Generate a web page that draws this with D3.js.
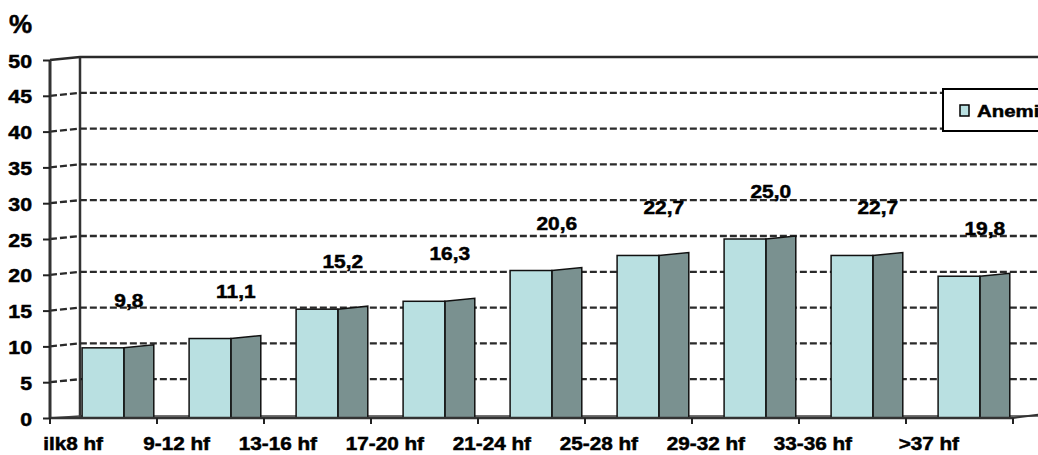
<!DOCTYPE html>
<html>
<head>
<meta charset="utf-8">
<script src="https://cdn.jsdelivr.net/npm/d3@7"></script>
<style>
  html, body { margin: 0; padding: 0; background: #fff; overflow: hidden; }
  svg { display: block; }
  text { font-family: "Liberation Sans", Arial, sans-serif; font-weight: bold; fill: #000; stroke: #000; stroke-width: 0.5px; }
</style>
</head>
<body>
<svg id="chart" width="1038" height="455"></svg>
<script>
// Gestation week groups and anemia prevalence (%)
const categories = ["ilk8 hf", "9-12 hf", "13-16 hf", "17-20 hf", "21-24 hf", "25-28 hf", "29-32 hf", "33-36 hf", ">37 hf"];
const values = [9.8, 11.1, 15.2, 16.3, 20.6, 22.7, 25.0, 22.7, 19.8];
const valueLabels = ["9,8", "11,1", "15,2", "16,3", "20,6", "22,7", "25,0", "22,7", "19,8"];
const yTicks = [0, 5, 10, 15, 20, 25, 30, 35, 40, 45, 50];
const seriesName = "Anemi";

const svg = d3.select("#chart");
const W = 1038;
const stretch = 1.15;          // wide lettering
const depthX = 30, depthY = 3; // pseudo-3D offset of the back wall

const y = d3.scaleLinear().domain([0, 50]).range([418, 60]);
const x = d3.scaleBand().domain(categories).range([50, 1013]).paddingInner(0).paddingOuter(0);
const bw = x.bandwidth();

const frontFill = "#b9e0e1", sideFill = "#7a9190";

// back wall: vertical edge
const g = svg.append("g");
g.append("line").attr("x1", 50 + depthX).attr("x2", 50 + depthX)
  .attr("y1", y(50) - depthY).attr("y2", y(0))
  .attr("stroke", "#333").attr("stroke-width", 2.5);

// gridlines (dashed) from the side wall across the back wall
yTicks.filter(t => t > 0).forEach(t => {
  const yy = y(t);
  const path = d3.path();
  path.moveTo(50, yy);
  path.lineTo(50 + depthX, yy - depthY);
  path.lineTo(W + 5, yy - depthY);
  g.append("path").attr("d", path.toString()).attr("fill", "none")
    .attr("stroke", "#2a2a2a").attr("stroke-width", t === 50 ? 2.5 : 2.3)
    .attr("stroke-dasharray", t === 50 ? null : "7,3");
});

// floor back edge
g.append("path")
  .attr("d", `M50,${y(0)}L${50 + depthX},${y(0) - 2}L${W + 5},${y(0) - 2}`)
  .attr("fill", "none").attr("stroke", "#444").attr("stroke-width", 1.5);

// bars: front face + darker right side face
const bars = svg.append("g").selectAll("g").data(categories).join("g");
const fx = c => x(c) + bw * 0.30;
const fw = bw * 0.39, sw = bw * 0.28;

bars.append("path")
  .attr("d", (c, i) => {
    const x0 = fx(c) + fw, top = y(values[i]);
    return `M${x0},${top}L${x0 + sw},${top - depthY}L${x0 + sw},${y(0)}L${x0},${y(0)}Z`;
  })
  .attr("fill", sideFill).attr("stroke", "#111").attr("stroke-width", 1.5);

bars.append("rect")
  .attr("x", c => fx(c)).attr("width", fw)
  .attr("y", (c, i) => y(values[i])).attr("height", (c, i) => y(0) - y(values[i]))
  .attr("fill", frontFill).attr("stroke", "#111").attr("stroke-width", 1.5);

// value labels
bars.append("text")
  .attr("transform", (c, i) => `translate(${fx(c) + fw + 5},${y(values[i]) - 41}) scale(1.1,1)`)
  .attr("text-anchor", "middle").attr("font-size", 19)
  .text((c, i) => valueLabels[i]);

// front edge of floor and left wall
svg.append("line").attr("x1", 50).attr("x2", 1013).attr("y1", y(0)).attr("y2", y(0))
  .attr("stroke", "#333").attr("stroke-width", 2.5);
svg.append("line").attr("x1", 1013).attr("x2", W + 5).attr("y1", y(0)).attr("y2", y(0) - 4)
  .attr("stroke", "#333").attr("stroke-width", 2);
svg.append("line").attr("x1", 50).attr("x2", 50).attr("y1", y(50)).attr("y2", y(0))
  .attr("stroke", "#333").attr("stroke-width", 3);

// y axis
const yAxis = svg.append("g").attr("transform", "translate(50,0)")
  .call(d3.axisLeft(y).tickValues(yTicks).tickSize(7).tickPadding(4).tickFormat(d3.format("d")));
yAxis.select(".domain").remove();
yAxis.selectAll(".tick line").attr("stroke", "#222").attr("stroke-width", 2);
yAxis.selectAll(".tick text")
  .attr("font-size", 19).attr("font-family", null).attr("fill", "#000")
  .attr("x", null).attr("dy", null)
  .attr("transform", `translate(-18,7) scale(1.12,1)`)
  .attr("text-anchor", "end");

// x axis: tick marks at category boundaries, labels under each category
const edges = categories.map(c => x(c)).concat([x.range()[1]]);
svg.append("g").selectAll("line").data(edges).join("line")
  .attr("x1", d => d).attr("x2", d => d).attr("y1", y(0)).attr("y2", y(0) + 6)
  .attr("stroke", "#222").attr("stroke-width", 2);

svg.append("g").selectAll("text").data(categories).join("text")
  .attr("transform", c => `translate(${x(c) + 53},450) scale(${stretch},1)`)
  .attr("text-anchor", "end").attr("font-size", 18)
  .text(c => c);

// unit label
svg.append("text").attr("transform", `translate(9,33)`)
  .attr("font-size", 26).text("%");

// legend
const leg = svg.append("g");
leg.append("rect").attr("x", 943).attr("y", 89).attr("width", 140).attr("height", 42)
  .attr("fill", "#fff").attr("stroke", "#000").attr("stroke-width", 2);
leg.append("rect").attr("x", 960).attr("y", 105).attr("width", 9).attr("height", 11)
  .attr("fill", frontFill).attr("stroke", "#000").attr("stroke-width", 1.5);
leg.append("text").attr("transform", `translate(977,117) scale(1.2,1)`)
  .attr("font-size", 17).text(seriesName);
</script>
</body>
</html>
